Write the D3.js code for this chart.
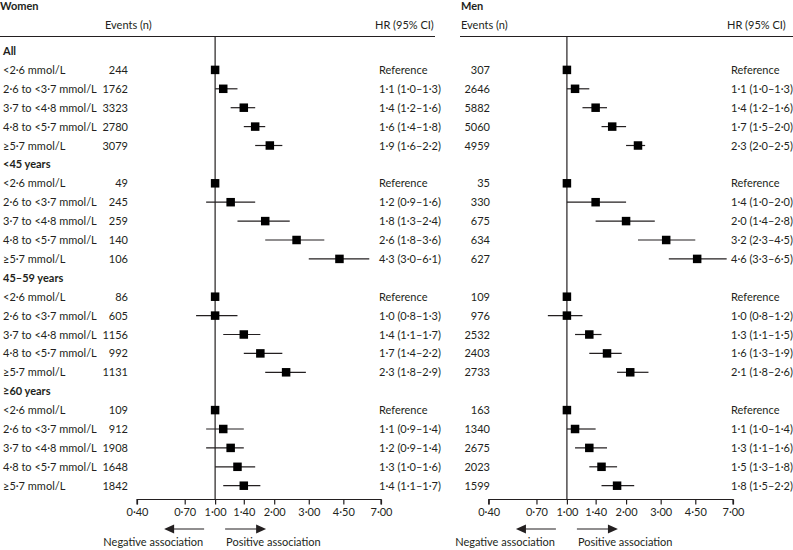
<!DOCTYPE html>
<html>
<head>
<meta charset="utf-8">
<script src="https://cdn.jsdelivr.net/npm/d3@7"></script>
<style>
  html, body { margin: 0; padding: 0; background: #fff; }
  svg { display: block; font-family: Lato, "Open Sans", sans-serif; }
  text { fill: #231f20; }
</style>
</head>
<body>
<svg id="chart" width="793" height="550"></svg>
<script>
// ---------- DATA ----------
const groups = ["All", "<45 years", "45–59 years", "≥60 years"];
const categories = ["<2·6 mmol/L", "2·6 to <3·7 mmol/L", "3·7 to <4·8 mmol/L", "4·8 to <5·7 mmol/L", "≥5·7 mmol/L"];

// Women (per group: 5 categories; first is reference)
const womenEvents = [244, 1762, 3323, 2780, 3079,   49, 245, 259, 140, 106,   86, 605, 1156, 992, 1131,   109, 912, 1908, 1648, 1842];
const womenHR     = [1, 1.1, 1.4, 1.6, 1.9,   1, 1.2, 1.8, 2.6, 4.3,   1, 1.0, 1.4, 1.7, 2.3,   1, 1.1, 1.2, 1.3, 1.4];
const womenLow    = [null, 1.0, 1.2, 1.4, 1.6,   null, 0.9, 1.3, 1.8, 3.0,   null, 0.8, 1.1, 1.4, 1.8,   null, 0.9, 0.9, 1.0, 1.1];
const womenHigh   = [null, 1.3, 1.6, 1.8, 2.2,   null, 1.6, 2.4, 3.6, 6.1,   null, 1.3, 1.7, 2.2, 2.9,   null, 1.4, 1.4, 1.6, 1.7];

// Men
const menEvents = [307, 2646, 5882, 5060, 4959,   35, 330, 675, 634, 627,   109, 976, 2532, 2403, 2733,   163, 1340, 2675, 2023, 1599];
const menHR     = [1, 1.1, 1.4, 1.7, 2.3,   1, 1.4, 2.0, 3.2, 4.6,   1, 1.0, 1.3, 1.6, 2.1,   1, 1.1, 1.3, 1.5, 1.8];
const menLow    = [null, 1.0, 1.2, 1.5, 2.0,   null, 1.0, 1.4, 2.3, 3.3,   null, 0.8, 1.1, 1.3, 1.8,   null, 1.0, 1.1, 1.3, 1.5];
const menHigh   = [null, 1.3, 1.6, 2.0, 2.5,   null, 2.0, 2.8, 4.5, 6.5,   null, 1.2, 1.5, 1.9, 2.6,   null, 1.4, 1.6, 1.8, 2.2];

const tickValues = [0.4, 0.7, 1.0, 1.4, 2.0, 3.0, 4.5, 7.0];
const tickLabels = ["0·40", "0·70", "1·00", "1·40", "2·00", "3·00", "4·50", "7·00"];

// ---------- LAYOUT ----------
const svg = d3.select("#chart");
const ink = "#231f20";
const fs = 11;
const rowY0 = 51, rowStep = 18.9;
const axisY = 499.5;
const headerLineY = 36.5;

const fmt = v => d3.format(".1f")(v).replace(".", "·");

// Build rows: group header then 5 categories
const rows = [];
groups.forEach((g, gi) => {
  rows.push({ type: "group", label: g });
  categories.forEach((c, ci) => rows.push({ type: "item", label: c, idx: gi * 5 + ci }));
});
const yRow = i => rowY0 + i * rowStep;

const panels = [
  { title: "Women", events: womenEvents, hr: womenHR, lo: womenLow, hi: womenHigh,
    x0: 0, lineX1: 435, range: [137, 381], eventsX: 128, eventsHeaderX: 105, hrX: 379, labels: true },
  { title: "Men", events: menEvents, hr: menHR, lo: menLow, hi: menHigh,
    x0: 460, lineX1: 793, range: [488.7, 733], eventsX: 490, eventsHeaderX: 461, hrX: 731, labels: false }
];

panels.forEach(p => {
  const g = svg.append("g");
  const x = d3.scaleLog().domain([tickValues[0], tickValues[tickValues.length - 1]]).range(p.range);

  // Title + headers
  g.append("text").attr("x", p.x0 + (p.labels ? 0 : 1)).attr("y", 10)
    .attr("font-size", fs).attr("font-weight", "bold").text(p.title);
  g.append("text").attr("x", p.eventsHeaderX).attr("y", 29).attr("font-size", fs).text("Events (n)");
  g.append("text").attr("x", p.hrX - 4).attr("y", 29).attr("font-size", fs).text("HR (95% CI)");
  g.append("line").attr("x1", p.x0).attr("x2", p.lineX1).attr("y1", headerLineY).attr("y2", headerLineY)
    .attr("stroke", ink).attr("stroke-width", 1);

  // Reference line at HR = 1
  g.append("line").attr("x1", x(1)).attr("x2", x(1)).attr("y1", headerLineY).attr("y2", axisY)
    .attr("stroke", ink).attr("stroke-width", 1.2);

  rows.forEach((r, i) => {
    const y = yRow(i);
    if (r.type === "group") {
      if (p.labels) g.append("text").attr("x", 3).attr("y", y + 4).attr("font-size", fs)
        .attr("font-weight", "bold").text(r.label);
      return;
    }
    if (p.labels) g.append("text").attr("x", 3).attr("y", y + 4).attr("font-size", fs).text(r.label);
    g.append("text").attr("x", p.eventsX).attr("y", y + 4).attr("font-size", fs)
      .attr("text-anchor", "end").text(p.events[r.idx]);
    const hr = p.hr[r.idx], lo = p.lo[r.idx], hi = p.hi[r.idx];
    if (lo !== null) {
      g.append("line").attr("x1", x(lo)).attr("x2", x(hi)).attr("y1", y).attr("y2", y)
        .attr("stroke", ink).attr("stroke-width", 1.2);
    }
    const s = 8.5;
    g.append("rect").attr("x", x(hr) - s / 2).attr("y", y - s / 2).attr("width", s).attr("height", s)
      .attr("fill", "#000");
    g.append("text").attr("x", p.hrX).attr("y", y + 4).attr("font-size", fs)
      .text(lo === null ? "Reference" : `${fmt(hr)} (${fmt(lo)}–${fmt(hi)})`);
  });

  // Axis
  const axis = d3.axisBottom(x).tickValues(tickValues).tickFormat((d, i) => tickLabels[i]).tickSize(5).tickPadding(4);
  const ag = g.append("g").attr("transform", `translate(0,${axisY})`).call(axis);
  ag.select(".domain").attr("stroke", ink).attr("stroke-width", 1.2).attr("d", `M${p.range[0]},5V0H${p.range[1]}V5`);
  ag.selectAll(".tick line").attr("stroke", ink).attr("stroke-width", 1.2);
  ag.selectAll(".tick text").attr("font-size", fs).attr("font-family", "Lato, 'Open Sans', sans-serif").attr("fill", ink);

  // Arrows
  const cx = x(1), ay = 529;
  g.append("line").attr("x1", cx - 11).attr("x2", cx - 43).attr("y1", ay).attr("y2", ay).attr("stroke", ink).attr("stroke-width", 1.2);
  g.append("path").attr("d", `M${cx - 51},${ay}L${cx - 41},${ay - 4.5}L${cx - 41},${ay + 4.5}Z`).attr("fill", ink);
  g.append("line").attr("x1", cx + 10).attr("x2", cx + 43).attr("y1", ay).attr("y2", ay).attr("stroke", ink).attr("stroke-width", 1.2);
  g.append("path").attr("d", `M${cx + 51},${ay}L${cx + 41},${ay - 4.5}L${cx + 41},${ay + 4.5}Z`).attr("fill", ink);
  g.append("text").attr("x", cx - 12).attr("y", 546).attr("font-size", fs).attr("text-anchor", "end").text("Negative association");
  g.append("text").attr("x", cx + 11).attr("y", 546).attr("font-size", fs).text("Positive association");
});
</script>
</body>
</html>
